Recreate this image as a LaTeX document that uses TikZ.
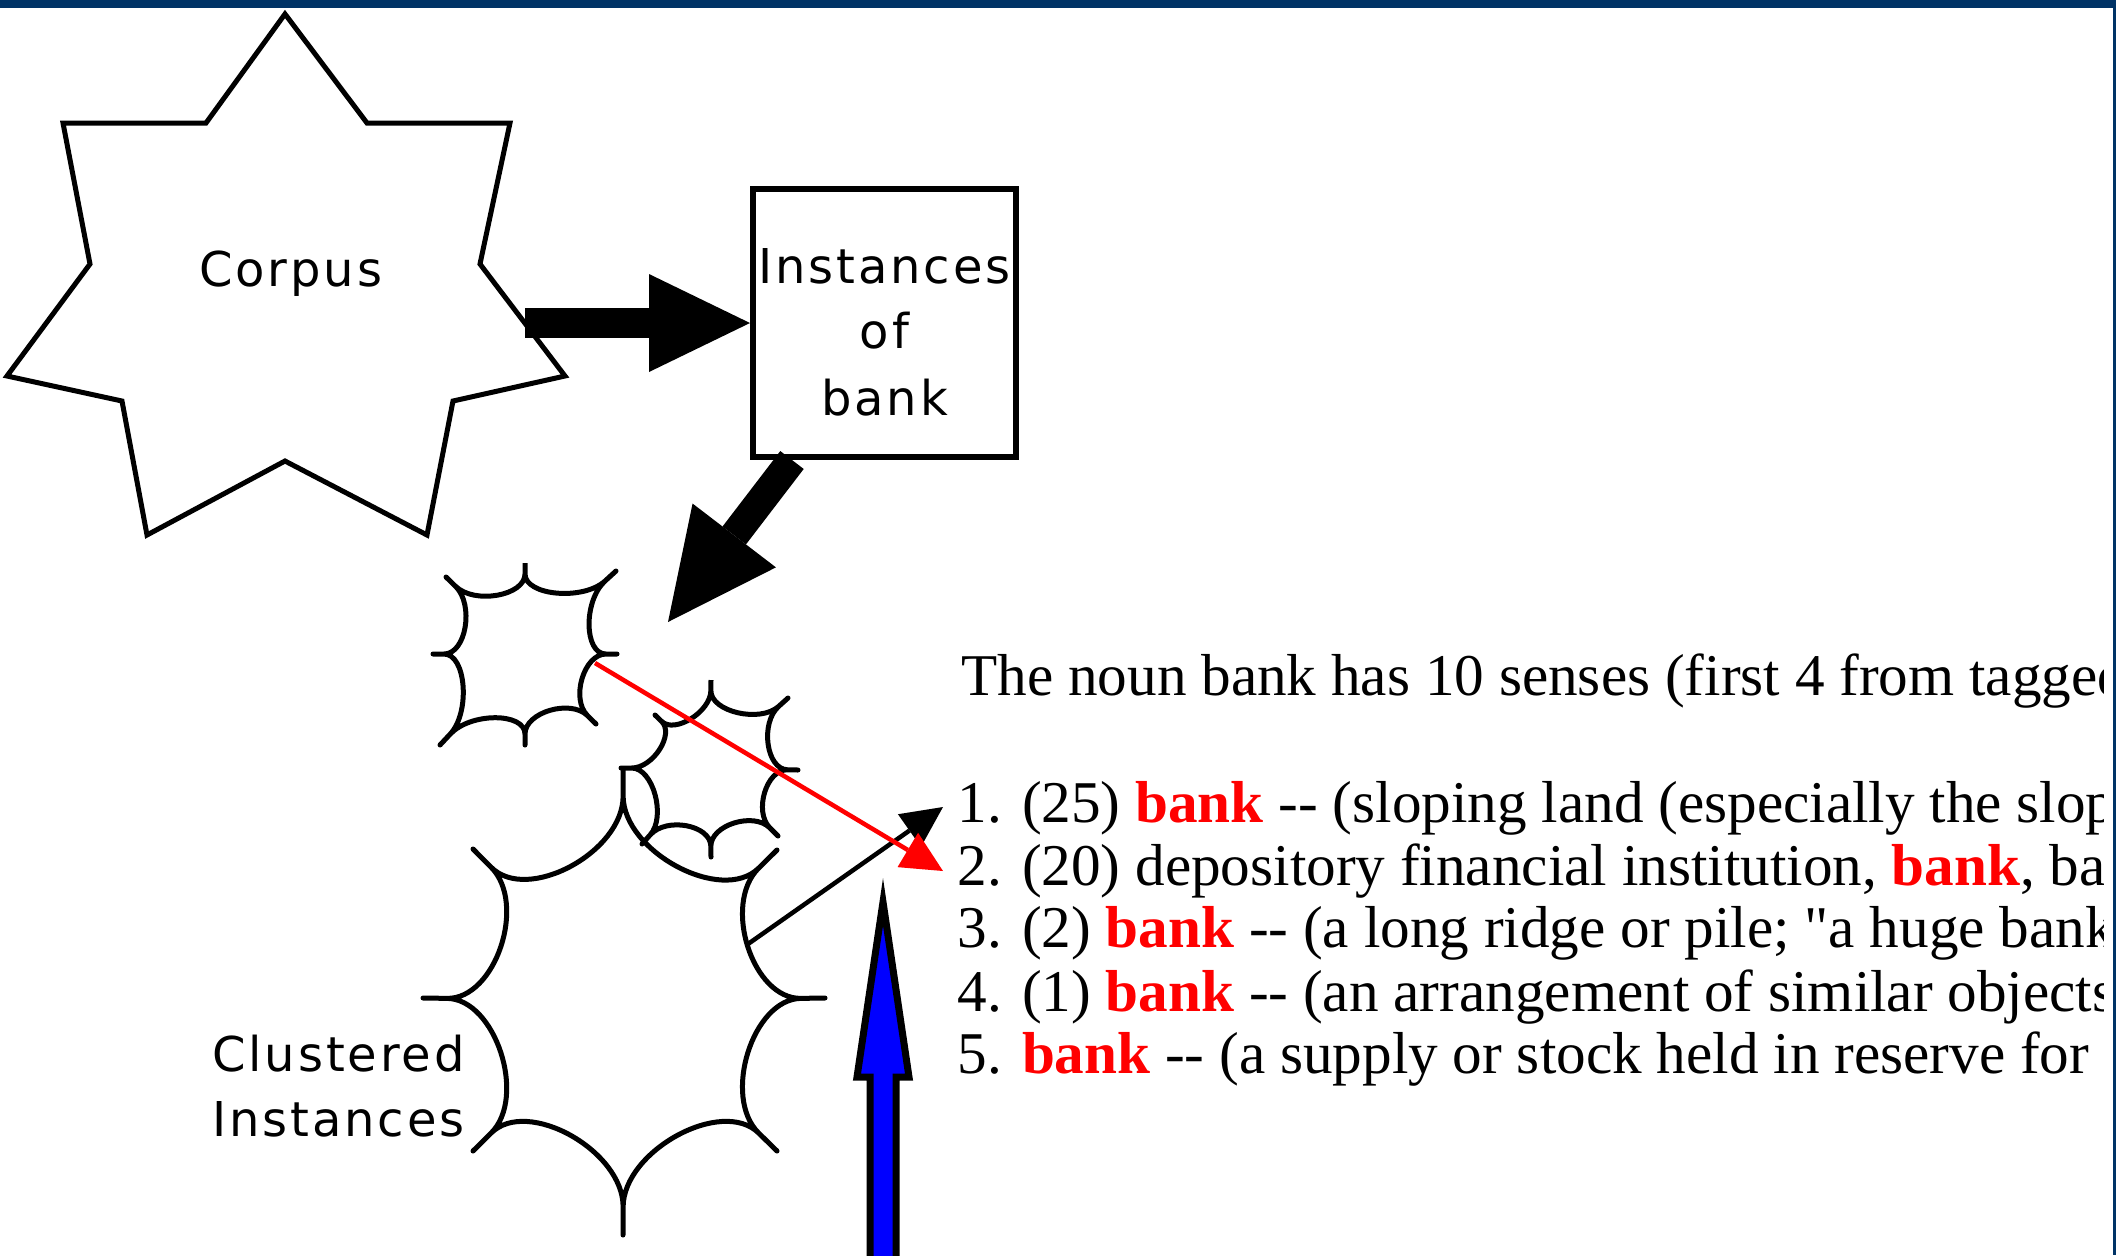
\documentclass[tikz,border=0pt]{standalone}
\usepackage{fontspec}
\setmainfont{Liberation Serif}
\newfontfamily\sensefont[Ligatures=TeXOff]{Liberation Serif}
\newfontfamily\labelfont[LetterSpace=6]{DejaVu Sans}
\usetikzlibrary{arrows.meta,calc}
\definecolor{slidenavy}{RGB}{0,51,102}
\definecolor{pureRed}{RGB}{255,0,0}
\definecolor{pureBlue}{RGB}{0,0,255}

% red bold keyword in the sense list
\newcommand\senseword[1]{\textcolor{pureRed}{\textbf{#1}}}
% burst outline: spike tips #1-1..#1-8 around centre #1-c;
% \burstb = radius of the spike bases, \burstq = radius of the curve handles
\newcommand\burstb{0.88}
\newcommand\burstq{0.64}
\newcommand\bseg[3]{-- ($(#1-c)!\burstb!(#1-#2)$)
  .. controls ($(#1-c)!\burstq!(#1-#2)$) and ($(#1-c)!\burstq!(#1-#3)$)
  .. ($(#1-c)!\burstb!(#1-#3)$) -- (#1-#3)}
\newcommand\burst[1]{(#1-1) \bseg{#1}{1}{2} \bseg{#1}{2}{3} \bseg{#1}{3}{4} \bseg{#1}{4}{5}
  \bseg{#1}{5}{6} \bseg{#1}{6}{7} \bseg{#1}{7}{8} \bseg{#1}{8}{1}}

\begin{document}
\begin{tikzpicture}[x=0.5pt,y=-0.5pt,
  outline/.style={draw=black, line width=2.5pt, line join=miter},
  cluster/.style={draw=black, line width=2.5pt, line join=round},
  framebox/.style={draw=black, line width=3pt, minimum width=131.5pt, minimum height=134pt, inner sep=0pt},
  sanslabel/.style={font=\labelfont\fontsize{24}{28}\selectfont, inner sep=0pt},
  sense/.style={font=\sensefont\fontsize{29.6}{31}\selectfont, inner sep=0pt, anchor=base west},
  bigarrow/.style={draw=black, line width=14.75pt},
  thinarrow/.style={line width=2.25pt, -{Triangle[length=20.5pt,width=20pt,line width=0pt]}},
]
\useasboundingbox (0,0) rectangle (2116,1255);
\fill[white] (0,0) rectangle (2116,1255);

% frame of the slide
\fill[slidenavy] (0,0) rectangle (2116,8);
\fill[slidenavy] (2113,0) rectangle (2116,1255);

% corpus star
\draw[outline] (285,14) -- (367,123) -- (510,123) -- (480,264) -- (565,376)
  -- (453,401) -- (427,535) -- (285,461) -- (147,535) -- (122,401) -- (7,376)
  -- (90,264) -- (63,123) -- (206,123) -- cycle;
\node[sanslabel, anchor=base west] (corpus) at (199,286) {Corpus};
\coordinate (corpusR) at (525,323);

% instances box
\node[framebox] (box) at (884.5,323) {};
\node[sanslabel, anchor=base] (inst1) at (884.5,283) {Instances};
\node[sanslabel, anchor=base] (inst2) at (884.5,348) {of};
\node[sanslabel, anchor=base] (inst3) at (884.5,415) {bank};

% thick arrows
\draw[bigarrow, -{Triangle[length=50.5pt,width=49pt,line width=0pt]}] (corpusR) -- (box.west);
\coordinate (a2s) at ($(box.south west)+(42,0)$);
\coordinate (a2e) at (668,622);
\draw[bigarrow, -{Triangle[length=54.5pt,width=52.5pt,line width=0pt]}] (a2s) -- (a2e);

% small cluster
\coordinate (cA-c) at (525,654);
\coordinate (cA-1) at (525,563);
\coordinate (cA-2) at (616,571);
\coordinate (cA-3) at (617,654);
\coordinate (cA-4) at (596,724);
\coordinate (cA-5) at (525,745);
\coordinate (cA-6) at (440,745);
\coordinate (cA-7) at (433,654);
\coordinate (cA-8) at (446,577);
\draw[cluster] \burst{cA};

% medium cluster
\coordinate (cB-c) at (710,768);
\coordinate (cB-1) at (711,680);
\coordinate (cB-2) at (788,698);
\coordinate (cB-3) at (798,770);
\coordinate (cB-4) at (778,836);
\coordinate (cB-5) at (711,857);
\coordinate (cB-6) at (642,844);
\coordinate (cB-7) at (621,768);
\coordinate (cB-8) at (655,715);
\draw[cluster] \burst{cB};

% large cluster
\coordinate (cC-c) at (624,1001);
\coordinate (cC-1) at (623,768);
\coordinate (cC-2) at (777,850);
\coordinate (cC-3) at (825,998);
\coordinate (cC-4) at (777,1151);
\coordinate (cC-5) at (623,1235);
\coordinate (cC-6) at (473,1151);
\coordinate (cC-7) at (423,998);
\coordinate (cC-8) at (473,849);
\draw[cluster] \burst{cC};

\node[sanslabel, anchor=base west] (clus1) at (212,1071) {Clustered};
\node[sanslabel, anchor=base west] (clus2) at (212,1136) {Instances};

% sense list
\begin{scope}
  \clip (930,600) rectangle (2103,1130);
  \node[sense] (head) at (961,695) {The noun bank has 10 senses (first 4 from tagged};
  \node[sense] (s1) at (957.5,822) {1. (25) \senseword{bank} -- (sloping land (especially the slope};
  \node[sense] (s2) at (957.5,885) {2. (20) depository financial institution, \senseword{bank}, banking};
  \node[sense] (s3) at (957.5,947) {3. (2) \senseword{bank} -- (a long ridge or pile; "a huge bank};
  \node[sense] (s4) at (957.5,1011) {4. (1) \senseword{bank} -- (an arrangement of similar objects};
  \node[sense] (s5) at (957.5,1073) {5. \senseword{bank} -- (a supply or stock held in reserve for};
\end{scope}

% pointers from clusters to senses
\coordinate (blkS) at (748,944);
\coordinate (blkE) at (943,807);
\draw[thinarrow, draw=black, fill=black] (blkS) -- (blkE);
\coordinate (redS) at (595,663);
\coordinate (redE) at (943,871);
\draw[thinarrow, draw=pureRed, fill=pureRed] (redS) -- (redE);

% blue block arrow
\draw[fill=pureBlue, draw=black, line width=3.5pt, line join=miter]
  (870,1275) -- (870,1077) -- (857,1077) -- (883,902) -- (909,1077)
  -- (896,1077) -- (896,1275) -- cycle;
\end{tikzpicture}
\end{document}
